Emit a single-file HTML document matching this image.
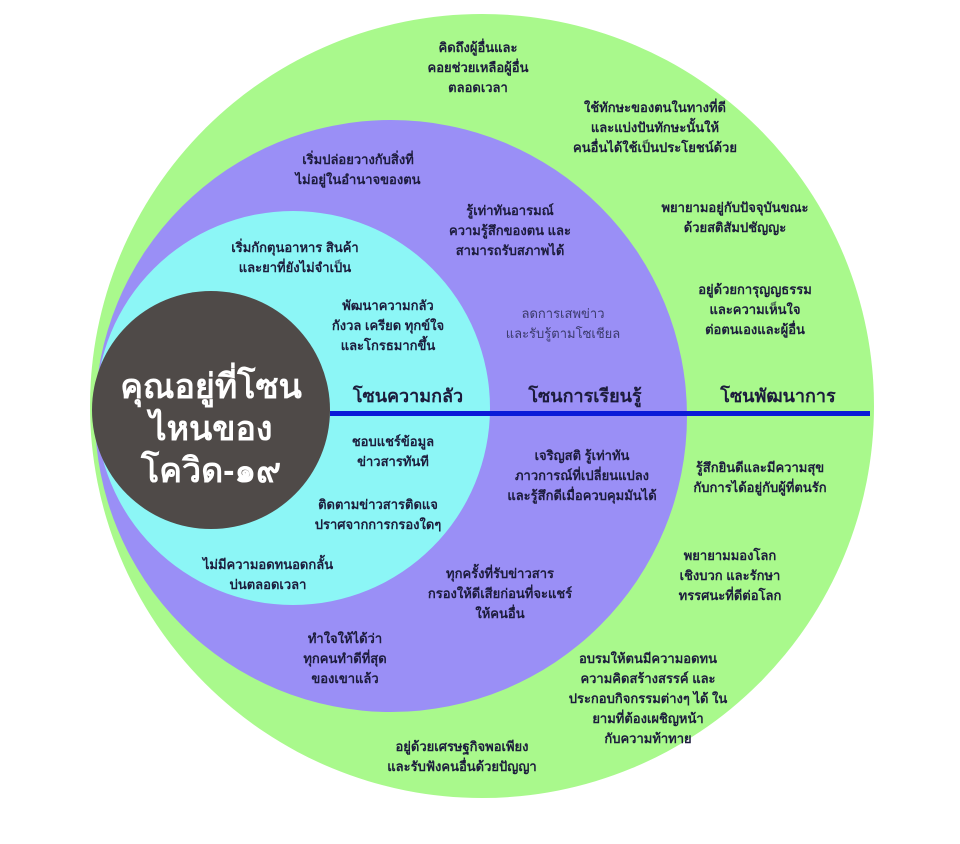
<!DOCTYPE html>
<html><head><meta charset="utf-8"><style>
html,body{margin:0;padding:0;background:#fff;width:960px;height:844px;overflow:hidden}
svg text{font-family:"Liberation Sans","DejaVu Sans",sans-serif;fill:#1c1c3c;text-anchor:middle;font-size:13px;font-weight:bold}
svg text.t{font-size:34px;fill:#fff}
svg text.z{font-size:18px;font-weight:bold}
</style></head><body>
<svg width="960" height="844" viewBox="0 0 960 844">
<rect width="960" height="844" fill="#fff"/>
<circle cx="482" cy="406" r="392" fill="#a9f98c"/>
<circle cx="391" cy="416" r="296" fill="#9a8ff6"/>
<circle cx="293" cy="408" r="197" fill="#8cf6f6"/>
<circle cx="211" cy="410" r="119" fill="#4f4a48"/>
<rect x="330" y="411" width="540" height="5" fill="#0a1ad8"/>
<text class="t" x="211" y="398">คุณอยู่ที่โซน</text>
<text class="t" x="211" y="440">ไหนของ</text>
<text class="t" x="211" y="482">โควิด-๑๙</text>
<text class="z" x="408" y="402">โซนความกลัว</text>
<text class="z" x="585" y="402">โซนการเรียนรู้</text>
<text class="z" x="778" y="402">โซนพัฒนาการ</text>
<text x="478" y="52">คิดถึงผู้อื่นและ</text>
<text x="478" y="72">คอยช่วยเหลือผู้อื่น</text>
<text x="478" y="92">ตลอดเวลา</text>
<text x="655" y="112">ใช้ทักษะของตนในทางที่ดี</text>
<text x="655" y="132">และแบ่งปันทักษะนั้นให้</text>
<text x="655" y="152">คนอื่นได้ใช้เป็นประโยชน์ด้วย</text>
<text x="735" y="212">พยายามอยู่กับปัจจุบันขณะ</text>
<text x="735" y="232">ด้วยสติสัมปชัญญะ</text>
<text x="755" y="294">อยู่ด้วยการุญญธรรม</text>
<text x="755" y="314">และความเห็นใจ</text>
<text x="755" y="334">ต่อตนเองและผู้อื่น</text>
<text x="358" y="164">เริ่มปล่อยวางกับสิ่งที่</text>
<text x="358" y="184">ไม่อยู่ในอำนาจของตน</text>
<text x="510" y="215">รู้เท่าทันอารมณ์</text>
<text x="510" y="235">ความรู้สึกของตน และ</text>
<text x="510" y="255">สามารถรับสภาพได้</text>
<text x="563" y="318" style="fill:#3a3a6a;font-weight:normal">ลดการเสพข่าว</text>
<text x="563" y="338" style="fill:#3a3a6a;font-weight:normal">และรับรู้ตามโซเชียล</text>
<text x="295" y="252">เริ่มกักตุนอาหาร สินค้า</text>
<text x="295" y="272">และยาที่ยังไม่จำเป็น</text>
<text x="388" y="310">พัฒนาความกลัว</text>
<text x="388" y="330">กังวล เครียด ทุกข์ใจ</text>
<text x="388" y="350">และโกรธมากขึ้น</text>
<text x="393" y="446">ชอบแชร์ข้อมูล</text>
<text x="393" y="466">ข่าวสารทันที</text>
<text x="378" y="509">ติดตามข่าวสารติดแจ</text>
<text x="378" y="529">ปราศจากการกรองใดๆ</text>
<text x="268" y="569">ไม่มีความอดทนอดกลั้น</text>
<text x="268" y="589">บ่นตลอดเวลา</text>
<text x="582" y="460">เจริญสติ รู้เท่าทัน</text>
<text x="582" y="480">ภาวการณ์ที่เปลี่ยนแปลง</text>
<text x="582" y="500">และรู้สึกดีเมื่อควบคุมมันได้</text>
<text x="500" y="578">ทุกครั้งที่รับข่าวสาร</text>
<text x="500" y="598">กรองให้ดีเสียก่อนที่จะแชร์</text>
<text x="500" y="618">ให้คนอื่น</text>
<text x="345" y="643">ทำใจให้ได้ว่า</text>
<text x="345" y="663">ทุกคนทำดีที่สุด</text>
<text x="345" y="683">ของเขาแล้ว</text>
<text x="760" y="472">รู้สึกยินดีและมีความสุข</text>
<text x="760" y="492">กับการได้อยู่กับผู้ที่ตนรัก</text>
<text x="730" y="560">พยายามมองโลก</text>
<text x="730" y="580">เชิงบวก และรักษา</text>
<text x="730" y="600">ทรรศนะที่ดีต่อโลก</text>
<text x="648" y="663">อบรมให้ตนมีความอดทน</text>
<text x="648" y="683">ความคิดสร้างสรรค์ และ</text>
<text x="648" y="703">ประกอบกิจกรรมต่างๆ ได้ ใน</text>
<text x="648" y="723">ยามที่ต้องเผชิญหน้า</text>
<text x="648" y="743">กับความท้าทาย</text>
<text x="462" y="751">อยู่ด้วยเศรษฐกิจพอเพียง</text>
<text x="462" y="771">และรับฟังคนอื่นด้วยปัญญา</text>
</svg>
</body></html>
